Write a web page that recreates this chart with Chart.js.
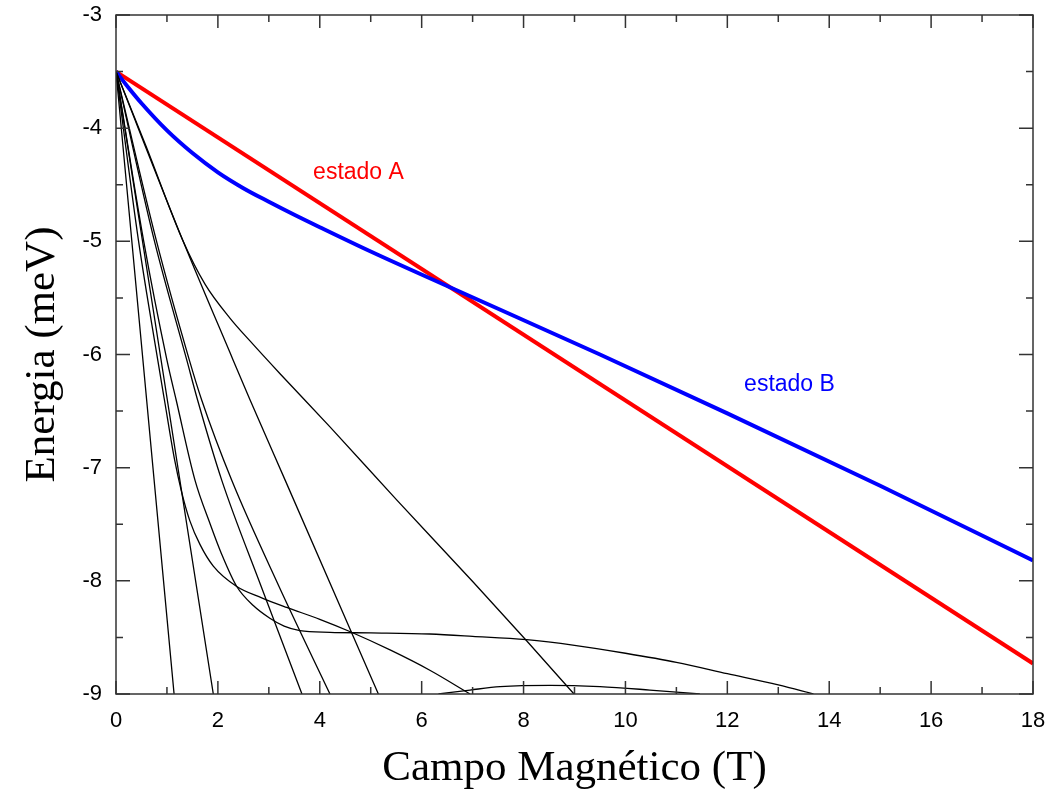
<!DOCTYPE html>
<html lang="pt-BR">
<head>
  <meta charset="UTF-8">
  <title>Energia x Campo Magnético</title>
  <script src="https://cdn.jsdelivr.net/npm/chart.js"></script>
  <style>
    body {
      margin: 0;
      background: #ffffff;
    }
    #grafico {
      display: block;
    }
  </style>
</head>
<body>
  <canvas id="grafico" width="1053" height="798"></canvas>

  <script>
    // estado A (vermelho) e estado B (azul)
    const campoA = [0, 18];
    const energiaA = [-3.5, -8.73];
    const campoB = [0, 0.25, 0.5, 1, 1.5, 2, 2.5, 3, 3.5, 4, 5, 6.5, 9.5, 12, 15, 18];
    const energiaB = [-3.5, -3.645, -3.78, -4.02, -4.22, -4.39, -4.53, -4.65, -4.765, -4.875, -5.09, -5.395, -6.0, -6.52, -7.16, -7.82];

    // demais niveis (pretos)
    const campoN1 = [0, 1.14];
    const energiaN1 = [-3.5, -9];
    const campoN2 = [0, 1.91];
    const energiaN2 = [-3.5, -9];
    const campoN3 = [0, 0.44, 0.82, 0.95, 1.15, 1.28, 1.45, 1.65, 1.91, 2.37, 2.86, 3.35, 4.0, 4.6, 5.4, 6.16, 6.95];
    const energiaN3 = [-3.5, -4.99, -6.05, -6.4, -6.93, -7.2, -7.47, -7.68, -7.87, -8.05, -8.15, -8.235, -8.34, -8.45, -8.615, -8.79, -9];
    const campoN4 = [0, 0.54, 1.0, 1.18, 1.55, 1.85, 2.07, 2.37, 2.7, 3.02, 3.3, 3.61, 4.2, 5, 6.16, 7.0, 8.06, 9.0, 10.0, 11.0, 12.0, 13.0, 13.69];
    const energiaN4 = [-3.5, -4.99, -6.05, -6.4, -7.11, -7.5, -7.76, -8.05, -8.22, -8.33, -8.40, -8.44, -8.455, -8.46, -8.47, -8.49, -8.52, -8.57, -8.64, -8.72, -8.82, -8.92, -9];
    const campoN5 = [0, 0.75, 1.39, 1.6, 2.075, 2.85, 3.65];
    const energiaN5 = [-3.5, -4.99, -6.05, -6.4, -7.11, -8.05, -9];
    const campoN6 = [0, 0.79, 1.44, 1.68, 2.27, 3.2, 4.2];
    const energiaN6 = [-3.5, -4.99, -6.05, -6.4, -7.11, -8.05, -9];
    const campoN7 = [0, 1.31, 2.3, 2.63, 3.32, 5.15];
    const energiaN7 = [-3.5, -4.99, -6.05, -6.4, -7.11, -9];
    const campoN8 = [0, 0.6, 1.31, 1.75, 2.24, 2.63, 3.22, 4.2, 5.5, 7.01, 8.06, 8.99];
    const energiaN8 = [-3.5, -4.17, -4.99, -5.38, -5.68, -5.88, -6.17, -6.64, -7.28, -8.01, -8.53, -9];
    const campoN9 = [6.33, 6.95, 7.54, 8.52, 9.5, 10.48, 11.46];
    const energiaN9 = [-9, -8.965, -8.935, -8.923, -8.935, -8.965, -9];

    const rotulos = ['estado A', 'estado B'];
    const rotuloX = [4.76, 13.22];
    const rotuloY = [-4.39, -6.27];
    const rotuloCor = ['#ff0000', '#0000ff'];

    function pares(xs, ys) {
      return xs.map((x, i) => ({ x: x, y: ys[i] }));
    }

    function nivel(xs, ys) {
      return {
        data: pares(xs, ys),
        borderColor: '#000000',
        borderWidth: 1.3,
        pointRadius: 0,
        cubicInterpolationMode: 'monotone'
      };
    }

    const datasets = [
      nivel(campoN1, energiaN1),
      nivel(campoN2, energiaN2),
      nivel(campoN3, energiaN3),
      nivel(campoN4, energiaN4),
      nivel(campoN5, energiaN5),
      nivel(campoN6, energiaN6),
      nivel(campoN7, energiaN7),
      nivel(campoN8, energiaN8),
      nivel(campoN9, energiaN9),
      {
        label: 'estado B',
        data: pares(campoB, energiaB),
        borderColor: '#0000ff',
        borderWidth: 4,
        pointRadius: 0,
        cubicInterpolationMode: 'monotone'
      },
      {
        label: 'estado A',
        data: pares(campoA, energiaA),
        borderColor: '#ff0000',
        borderWidth: 4,
        pointRadius: 0
      }
    ];

    // moldura com marcas para dentro e rotulos dos estados
    const moldura = {
      id: 'moldura',
      afterDraw(chart) {
        const ctx = chart.ctx;
        const a = chart.chartArea;
        const sx = chart.scales.x;
        const sy = chart.scales.y;
        ctx.save();
        ctx.strokeStyle = '#333333';
        ctx.lineWidth = 1.5;
        ctx.beginPath();
        for (let v = 0; v <= 18; v += 1) {
          const p = sx.getPixelForValue(v);
          const len = v % 2 === 0 ? 13 : 7;
          ctx.moveTo(p, a.bottom); ctx.lineTo(p, a.bottom - len);
          ctx.moveTo(p, a.top); ctx.lineTo(p, a.top + len);
        }
        for (let v = -9; v <= -3; v += 0.5) {
          const p = sy.getPixelForValue(v);
          const len = Number.isInteger(v) ? 14 : 7;
          ctx.moveTo(a.left, p); ctx.lineTo(a.left + len, p);
          ctx.moveTo(a.right, p); ctx.lineTo(a.right - len, p);
        }
        ctx.stroke();
        ctx.strokeRect(a.left, a.top, a.right - a.left, a.bottom - a.top);

        ctx.font = '23px "Liberation Sans", Arial, sans-serif';
        ctx.textAlign = 'center';
        ctx.textBaseline = 'middle';
        rotulos.forEach((t, i) => {
          ctx.fillStyle = rotuloCor[i];
          ctx.fillText(t, sx.getPixelForValue(rotuloX[i]), sy.getPixelForValue(rotuloY[i]));
        });
        ctx.restore();
      }
    };

    function semFolga(scale) {
      scale.paddingTop = 0;
      scale.paddingBottom = 0;
      scale.paddingLeft = 0;
      scale.paddingRight = 0;
    }

    new Chart(document.getElementById('grafico').getContext('2d'), {
      type: 'scatter',
      data: { datasets: datasets },
      options: {
        responsive: false,
        animation: false,
        showLine: true,
        layout: { padding: { top: 15, right: 20, left: 0, bottom: 0 } },
        plugins: {
          legend: { display: false },
          tooltip: { enabled: false }
        },
        scales: {
          x: {
            type: 'linear',
            min: 0,
            max: 18,
            grid: { display: false, drawTicks: false },
            border: { display: false },
            ticks: {
              stepSize: 2,
              padding: 14,
              color: '#000',
              font: { family: '"Liberation Sans", Arial, sans-serif', size: 22 }
            },
            title: {
              display: true,
              text: 'Campo Magnético (T)',
              color: '#000',
              padding: { top: 0, bottom: 3 },
              font: { family: '"Liberation Serif", "Times New Roman", serif', size: 43 }
            },
            afterFit(scale) {
              scale.height = 104;
              semFolga(scale);
            }
          },
          y: {
            type: 'linear',
            min: -9,
            max: -3,
            grid: { display: false, drawTicks: false },
            border: { display: false },
            ticks: {
              stepSize: 1,
              padding: 14,
              color: '#000',
              font: { family: '"Liberation Sans", Arial, sans-serif', size: 22 }
            },
            title: {
              display: true,
              text: 'Energia (meV)',
              color: '#000',
              padding: { top: 17, bottom: 0 },
              font: { family: '"Liberation Serif", "Times New Roman", serif', size: 43 }
            },
            afterFit(scale) {
              scale.width = 116;
              semFolga(scale);
            }
          }
        }
      },
      plugins: [moldura]
    });
  </script>
</body>
</html>
